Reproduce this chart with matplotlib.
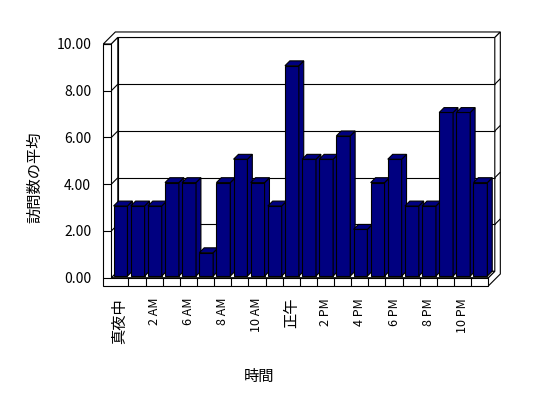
import numpy as np
import matplotlib
matplotlib.use('Agg')
import matplotlib.pyplot as plt

plt.rcParams['font.family'] = ['Noto Sans CJK JP', 'DejaVu Sans']

# hours in the sheet (4 AM and 5 AM have no rows)
hours = ['真夜中', '1 AM', '2 AM', '3 AM', '6 AM', '7 AM', '8 AM', '9 AM',
         '10 AM', '11 AM', '正午', '1 PM', '2 PM', '3 PM', '4 PM', '5 PM',
         '6 PM', '7 PM', '8 PM', '9 PM', '10 PM', '11 PM']
avg_visits = [3, 3, 3, 4, 4, 1, 4, 5, 4, 3, 9, 5, 5, 6, 2, 4, 5, 3, 3, 7, 7, 4]
yticks = [0, 2, 4, 6, 8, 10]

n = len(hours)
ymax = 10

# figure is 548x398 px, axes = front plane of the 3d box
W, H = 548, 398
fig = plt.figure(figsize=(W / 100, H / 100), dpi=100)
x0, x1, ytop, ybot = 111.3, 488.3, 44.0, 277.7
ax = fig.add_axes([x0 / W, 1 - ybot / H, (x1 - x0) / W, (ybot - ytop) / H])
ax.set_xlim(0, n)
ax.set_ylim(0, ymax)
ax.patch.set_visible(False)
for s in ax.spines.values():
    s.set_visible(False)

# depth offset of one unit of depth, in data units
px_x = (x1 - x0) / n
px_y = (ybot - ytop) / ymax
DX, DY = 6.5 / px_x, 6.5 / px_y
TW = 8.0 / px_x     # left wall thickness
TF = 8.3 / px_y     # floor thickness
ZB = 1.85           # back of back wall

lw = 0.8


def P(x, y, z):
    return (x + z * DX, y + z * DY)


def face(pts, fc='white', z=1):
    xy = [P(*p) for p in pts]
    ax.fill([p[0] for p in xy], [p[1] for p in xy], facecolor=fc,
            edgecolor='black', linewidth=lw, clip_on=False, zorder=z)


def seg(a, b, z=2):
    pa, pb = P(*a), P(*b)
    ax.plot([pa[0], pb[0]], [pa[1], pb[1]], color='black', linewidth=lw,
            clip_on=False, zorder=z, solid_capstyle='butt')


# walls and floor
face([(0, 0, 1), (n, 0, 1), (n, ymax, 1), (0, ymax, 1)])
face([(-TW, ymax, 0), (0, ymax, 0), (0, ymax, 1), (n, ymax, 1),
      (n, ymax, ZB), (-TW, ymax, ZB)])
face([(n, -TF, 0), (n, 0, 0), (n, 0, 1), (n, ymax, 1), (n, ymax, ZB),
      (n, -TF, ZB)])
face([(0, 0, 0), (n, 0, 0), (n, 0, 1), (0, 0, 1)])
face([(0, 0, 0), (0, 0, 1), (0, ymax, 1), (0, ymax, 0)])
face([(-TW, -TF, 0), (n, -TF, 0), (n, 0, 0), (0, 0, 0), (0, ymax, 0),
      (-TW, ymax, 0)])

for v in yticks:
    seg((-TW, v, 0), (0, v, 0))
    if 0 < v < ymax:
        seg((0, v, 0), (0, v, 1))
        seg((0, v, 1), (n, v, 1))
        seg((n, v, 1), (n, v, ZB))
for i in range(1, n):
    seg((i, -TF, 0), (i, 0, 0))

# bars
navy = '#000080'
a, b = 0.04, 0.85
z0, z1 = 0.25, 1.0
for i, v in enumerate(avg_visits):
    zo = 10 + i
    face([(i + a, 0, z0), (i + b, 0, z0), (i + b, v, z0), (i + a, v, z0)], navy, zo)
    face([(i + b, 0, z0), (i + b, 0, z1), (i + b, v, z1), (i + b, v, z0)], navy, zo)
    face([(i + a, v, z0), (i + b, v, z0), (i + b, v, z1), (i + a, v, z1)], navy, zo)

# axis text
ax.set_yticks(yticks)
ax.set_yticklabels([f'{v:.2f}' for v in yticks], fontsize=10)
ax.set_xticks(np.arange(0, n, 2) + 0.5)
ax.set_xticklabels(hours[::2], rotation=90, fontsize=9)
for t in ax.get_xticklabels():
    if not t.get_text()[0].isdigit():
        t.set_fontsize(11)
ax.tick_params(axis='y', length=0, pad=14.5)
ax.tick_params(axis='x', length=0, pad=14.6)

fig.text(259 / W, 1 - 376 / H, '時間', ha='center', va='center', fontsize=11)
fig.text(34.5 / W, 1 - 177.5 / H, '訪問数の平均', ha='center', va='center',
         rotation=90, fontsize=11)

fig.savefig('out.png', dpi=100)
